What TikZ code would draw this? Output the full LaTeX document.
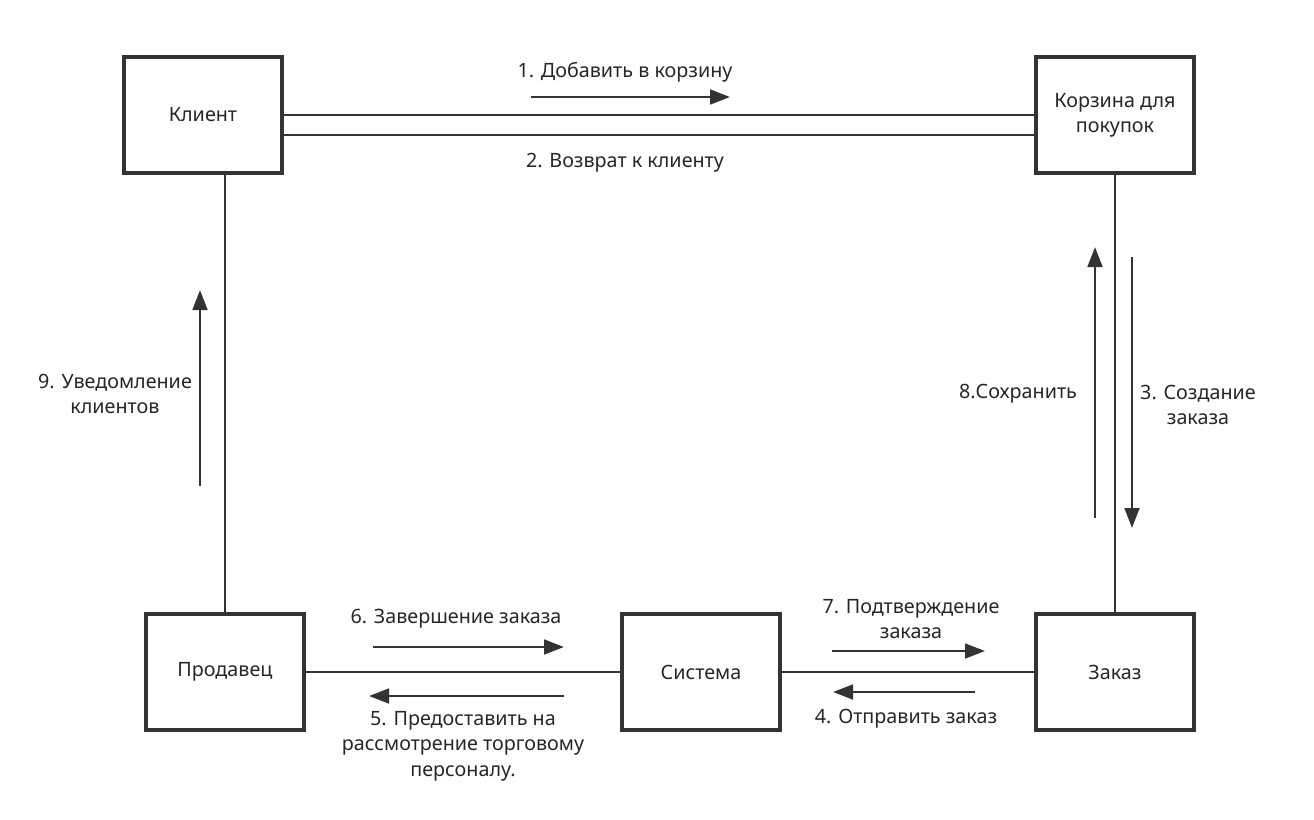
\documentclass[tikz,border=0pt]{standalone}
\usepackage{fontspec}
\setmainfont{Noto Sans}
\usetikzlibrary{arrows.meta,calc}
\definecolor{ink}{HTML}{333333}
\definecolor{txt}{HTML}{262626}
\tikzset{
  box/.style={draw=ink, line width=2.4pt, minimum width=118.5pt, minimum height=87pt, inner sep=0pt, align=center, text=txt},
  link/.style={draw=ink, line width=2.1pt},
  flow/.style={draw=ink, line width=2.1pt, -{Triangle[length=15pt,width=11pt]}},
  lbl/.style={text=txt, align=center, inner sep=0pt, font=\fontsize{14.8pt}{19pt}\selectfont}
}
\begin{document}
\begin{tikzpicture}[x=0.75pt,y=-0.75pt, font=\fontsize{14.8pt}{19pt}\selectfont]
\useasboundingbox (0,0) rectangle (1314,819);
% boxes
\node[box] (kl) at (203,115) {Клиент};
\node[box] (kor) at (1115,115) {Корзина для\\покупок};
\node[box] (pr) at (225,672) {Продавец};
\node[box] (sys) at (701,672) {Система};
\node[box] (zak) at (1115,672) {Заказ};
% connectors
\draw[link] (kl.east) -- (kor.west);
\draw[link] ($(kl.east)+(0,20)$) -- ($(kor.west)+(0,20)$);
\draw[link] ($(kl.south)+(22,0)$) -- (pr.north);
\draw[link] (kor.south) -- (zak.north);
\draw[link] (pr.east) -- (sys.west);
\draw[link] (sys.east) -- (zak.west);
% message arrows
\coordinate (a1s) at (531,97);  \coordinate (a1e) at (730,97);
\coordinate (a9s) at (200,486); \coordinate (a9e) at (200,290);
\coordinate (a8s) at (1095,518); \coordinate (a8e) at (1095,247);
\coordinate (a3s) at (1132,257); \coordinate (a3e) at (1132,528);
\coordinate (a6s) at (373,647); \coordinate (a6e) at (564,647);
\coordinate (a5s) at (564,696); \coordinate (a5e) at (369,696);
\coordinate (a7s) at (832,651); \coordinate (a7e) at (985,651);
\coordinate (a4s) at (975,692); \coordinate (a4e) at (833,692);
\draw[flow] (a1s) -- (a1e);
\draw[flow] (a9s) -- (a9e);
\draw[flow] (a8s) -- (a8e);
\draw[flow] (a3s) -- (a3e);
\draw[flow] (a6s) -- (a6e);
\draw[flow] (a5s) -- (a5e);
\draw[flow] (a7s) -- (a7e);
\draw[flow] (a4s) -- (a4e);
% labels
\node[lbl] (l1) at (625,72) {1. Добавить в корзину};
\node[lbl] (l2) at (625,163) {2. Возврат к клиенту};
\node[lbl] (l9) at (115,394) {9. Уведомление\\клиентов};
\node[lbl] (l8) at (1018,394) {8.Сохранить};
\node[lbl] (l3) at (1198,405) {3. Создание\\заказа};
\node[lbl] (l6) at (456,619) {6. Завершение заказа};
\node[lbl] (l5) at (463,746) {5. Предоставить на\\рассмотрение торговому\\персоналу.};
\node[lbl] (l7) at (911,619) {7. Подтверждение\\заказа};
\node[lbl] (l4) at (906,719) {4. Отправить заказ};
\end{tikzpicture}
\end{document}
